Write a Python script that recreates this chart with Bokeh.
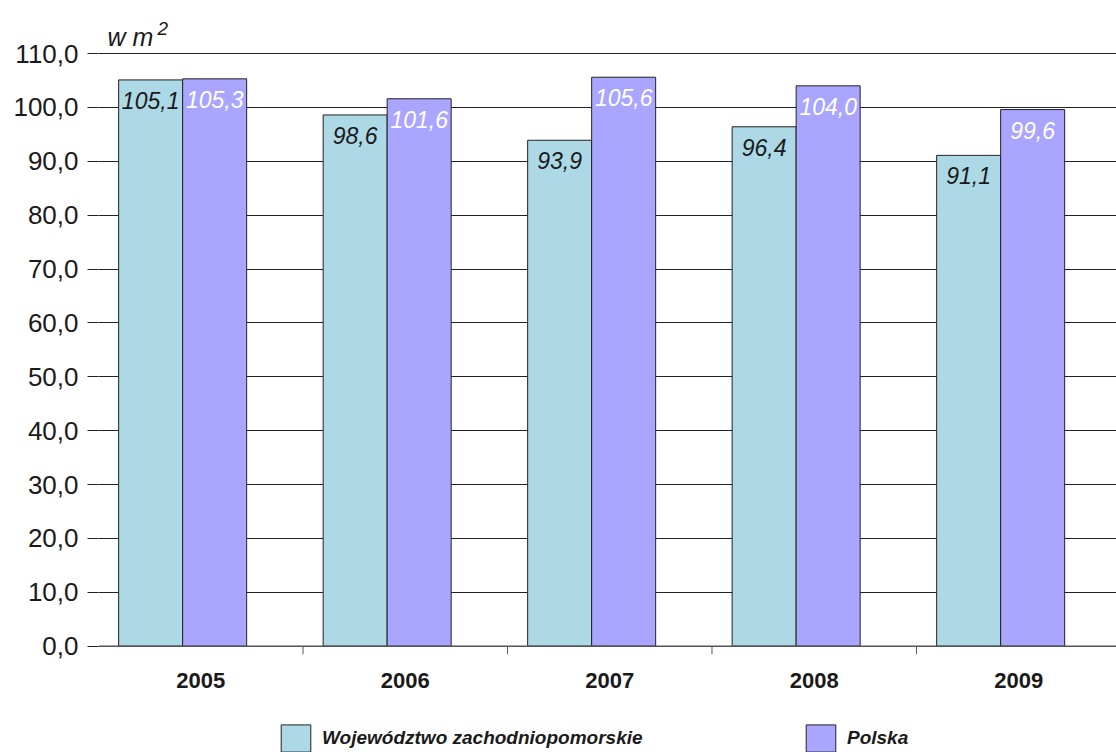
import math
from bokeh.plotting import figure
from bokeh.models import (ColumnDataSource, Range1d, FixedTicker, Legend, LegendItem, Label, Span)
from bokeh.transform import dodge
from bokeh.core.properties import value
from bokeh.embed import file_html
from bokeh.resources import INLINE

years = ["2005", "2006", "2007", "2008", "2009"]
zachodniopomorskie = [105.1, 98.6, 93.9, 96.4, 91.1]
polska = [105.3, 101.6, 105.6, 104.0, 99.6]
y_ticks = [0, 10, 20, 30, 40, 50, 60, 70, 80, 90, 100, 110]
series_names = ["Województwo zachodniopomorskie", "Polska"]
unit_text = "w m"
unit_sup = "2"

def fmt(v):
    return f"{v:.1f}".replace(".", ",")

idx = list(range(len(years)))
src = ColumnDataSource(dict(
    x=idx,
    year=years,
    zero=[0] * len(idx),
    zp=zachodniopomorskie,
    pl=polska,
    zp_lab=[fmt(v) for v in zachodniopomorskie],
    pl_lab=[fmt(v) for v in polska],
))
bounds = ColumnDataSource(dict(x=[i + 0.5 for i in idx[:-1]], y=[0] * (len(idx) - 1)))

CYAN = "#ADD8E6"
PURPLE = "#AAA5FF"
FONT = "Liberation Sans"
DARK = "#1a1a1a"

p = figure(width=1116, height=752, output_backend="svg", toolbar_location=None,
           x_range=Range1d(-0.5, 4.478), y_range=Range1d(-19.73, 119.84),
           min_border_left=98, min_border_right=0, min_border_top=0, min_border_bottom=0)
p.outline_line_color = None
p.background_fill_color = "white"

BW = 0.313
OFF_Z = -0.245
OFF_P = 0.068

r1 = p.vbar(x=dodge("x", OFF_Z, range=p.x_range), top="zp", width=BW, source=src,
            fill_color=CYAN, line_color="#222222", line_width=1)
r2 = p.vbar(x=dodge("x", OFF_P, range=p.x_range), top="pl", width=BW, source=src,
            fill_color=PURPLE, line_color="#222222", line_width=1)

p.text(x=dodge("x", OFF_Z, range=p.x_range), y="zp", text="zp_lab", source=src,
       text_align="center", text_baseline="top", y_offset=12,
       text_font=value(FONT), text_font_style="italic", text_font_size="23px",
       text_color=DARK)
p.text(x=dodge("x", OFF_P, range=p.x_range), y="pl", text="pl_lab", source=src,
       text_align="center", text_baseline="top", y_offset=12,
       text_font=value(FONT), text_font_style="italic", text_font_size="23px",
       text_color="white")

# grid / y axis
p.xgrid.grid_line_color = None
p.ygrid.ticker = FixedTicker(ticks=y_ticks)
p.ygrid.grid_line_color = "#222222"
p.ygrid.grid_line_width = 1

p.xaxis.visible = False

ya = p.yaxis[0]
ya.ticker = FixedTicker(ticks=y_ticks)
ya.major_label_overrides = {t: fmt(t) for t in y_ticks}
ya.axis_line_color = None
ya.major_tick_out = 11
ya.major_tick_in = 0
ya.major_tick_line_color = "#222222"
ya.minor_tick_line_color = None
ya.major_label_standoff = 9
ya.major_label_text_font = FONT
ya.major_label_text_font_size = "26px"
ya.major_label_text_color = DARK

# category axis drawn at zero
p.add_layout(Span(location=0, dimension="width", line_color="#555555", line_width=1.5))
p.ray(x="x", y="y", source=bounds, length=8, length_units="screen",
      angle=-math.pi / 2, line_color="#555555", line_width=1)
p.text(x="x", y="zero", text="year", source=src, text_align="center",
       text_baseline="middle", y_offset=34, text_font=value(FONT),
       text_font_style="bold", text_font_size="22px", text_color=DARK)

# unit label
p.add_layout(Label(x=-0.5, y=110, x_offset=9, y_offset=17, text=unit_text,
                   text_font=FONT, text_font_style="italic", text_font_size="25px",
                   text_color=DARK, text_baseline="alphabetic"))
p.add_layout(Label(x=-0.5, y=110, x_offset=59, y_offset=25, text=unit_sup,
                   text_font=FONT, text_font_style="italic", text_font_size="19px",
                   text_color=DARK, text_baseline="alphabetic"))

# legends
def mk_legend(label, r, x):
    lg = Legend(items=[LegendItem(label=label, renderers=[r])], location=(x, -3),
                orientation="horizontal", glyph_width=37, glyph_height=34,
                label_standoff=8, padding=0, margin=0, spacing=0,
                border_line_color=None, background_fill_alpha=0,
                label_text_font=FONT, label_text_font_style="bold italic",
                label_text_font_size="19px", label_text_color=DARK,
                label_height=34)
    p.add_layout(lg, "center")

mk_legend(series_names[0], r1, 179)
mk_legend(series_names[1], r2, 704)

open("out.html", "w").write(file_html(p, INLINE))
